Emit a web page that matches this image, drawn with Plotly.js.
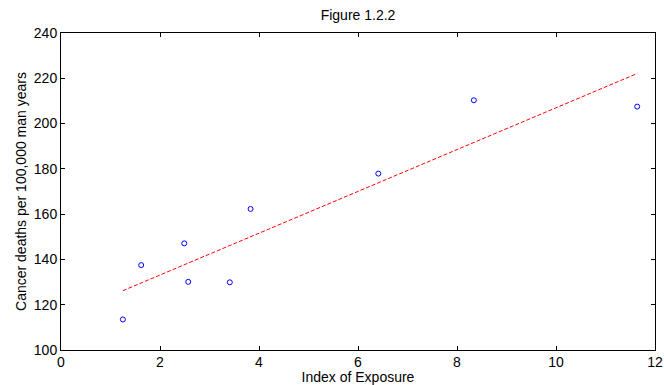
<!DOCTYPE html>
<html>
<head>
<meta charset="utf-8">
<script src="https://cdn.plot.ly/plotly-3.0.1.min.js"></script>
<style>html,body{margin:0;padding:0;background:#fff;}#chart{width:664px;height:385px;}</style>
</head>
<body>
<div id="chart"></div>
<script>
const exposure = [8.34, 6.41, 3.41, 3.83, 2.57, 11.64, 1.25, 2.49, 1.62];
const deaths = [210.3, 177.9, 129.9, 162.3, 130.1, 207.5, 113.5, 147.1, 137.5];
const fitX = [1.25, 11.64];
const fitY = [126.2, 222.1];
const xTicks = [0, 2, 4, 6, 8, 10, 12];
const yTicks = [100, 120, 140, 160, 180, 200, 220, 240];

const traces = [
  {x: exposure, y: deaths, type: 'scatter', mode: 'markers',
   marker: {symbol: 'circle-open', size: 5, color: '#0000ff', line: {width: 1, color: '#0000ff'}}},
  {x: fitX, y: fitY, type: 'scatter', mode: 'lines',
   line: {color: '#ff0000', width: 1, dash: '4px,2px'}}
];
const fam = 'Liberation Sans, Arial, sans-serif';
const axisBase = {showgrid: false, zeroline: false, showline: true, mirror: 'ticks',
  linecolor: '#000', linewidth: 1, ticks: 'inside', ticklen: 4, tickcolor: '#000',
  tickfont: {family: fam, size: 14, color: '#000'}};
const layout = {
  width: 664, height: 385,
  margin: {l: 61, r: 9, t: 33, b: 35},
  showlegend: false,
  paper_bgcolor: '#fff', plot_bgcolor: '#fff',
  font: {family: fam, size: 14, color: '#000'},
  title: {text: 'Figure 1.2.2', x: 0.5, xref: 'paper', y: 0.96, yanchor: 'middle', font: {size: 14}},
  xaxis: Object.assign({}, axisBase, {range: [0, 12], tickvals: xTicks, ticktext: xTicks.map(String),
    ticklabelstandoff: -1,
    title: {text: 'Index of Exposure', standoff: 2, font: {size: 14}}}),
  yaxis: Object.assign({}, axisBase, {range: [100, 240], tickvals: yTicks, ticktext: yTicks.map(String),
    title: {text: 'Cancer deaths per 100,000 man years', standoff: 3, font: {size: 14}}})
};
Plotly.newPlot('chart', traces, layout, {displayModeBar: false, staticPlot: true});
</script>
</body>
</html>
